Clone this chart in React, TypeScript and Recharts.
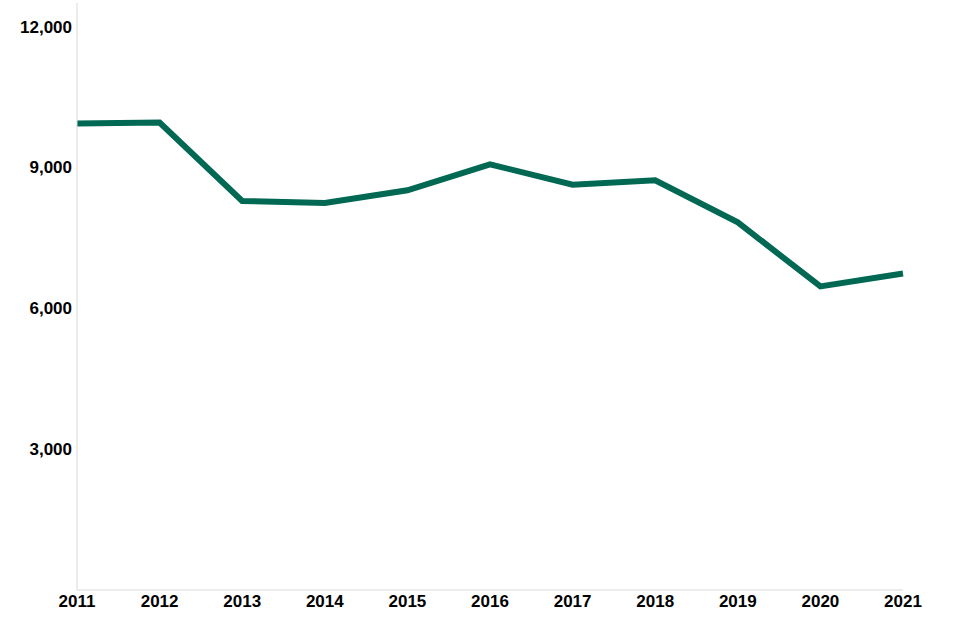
import React from "react";
import { LineChart, Line, XAxis, YAxis } from "recharts";

const years = ["2011", "2012", "2013", "2014", "2015", "2016", "2017", "2018", "2019", "2020", "2021"];
const values = [9932, 9953, 8284, 8241, 8511, 9065, 8632, 8723, 7828, 6464, 6741];
const yTicks = [3000, 6000, 9000, 12000];

const data = years.map((year, i) => ({ year, value: values[i] }));

const tickStyle = {
  fill: "#000",
  fontFamily: "'Liberation Sans', Arial, Helvetica, sans-serif",
  fontWeight: 700,
  fontSize: 17,
};

export default function App() {
  return (
    <div style={{ position: "absolute", left: 0, top: 0, width: 960, height: 640, background: "#fff" }}>
      <LineChart
        width={960}
        height={640}
        data={data}
        margin={{ top: 3, right: 57, bottom: 0, left: 0 }}
      >
        <XAxis
          dataKey="year"
          height={50}
          tickLine={false}
          tickSize={0}
          tickMargin={5}
          axisLine={{ stroke: "#d9d9d9", strokeWidth: 1 }}
          tick={tickStyle}
          interval={0}
        />
        <YAxis
          width={77}
          domain={[0, 12500]}
          ticks={yTicks}
          tickLine={false}
          tickSize={0}
          tickMargin={5}
          axisLine={{ stroke: "#d9d9d9", strokeWidth: 1 }}
          tick={tickStyle}
          tickFormatter={(v: number) => v.toLocaleString("en-US")}
        />
        <Line
          type="linear"
          dataKey="value"
          stroke="#006853"
          strokeWidth={6}
          dot={false}
          isAnimationActive={false}
        />
      </LineChart>
    </div>
  );
}
